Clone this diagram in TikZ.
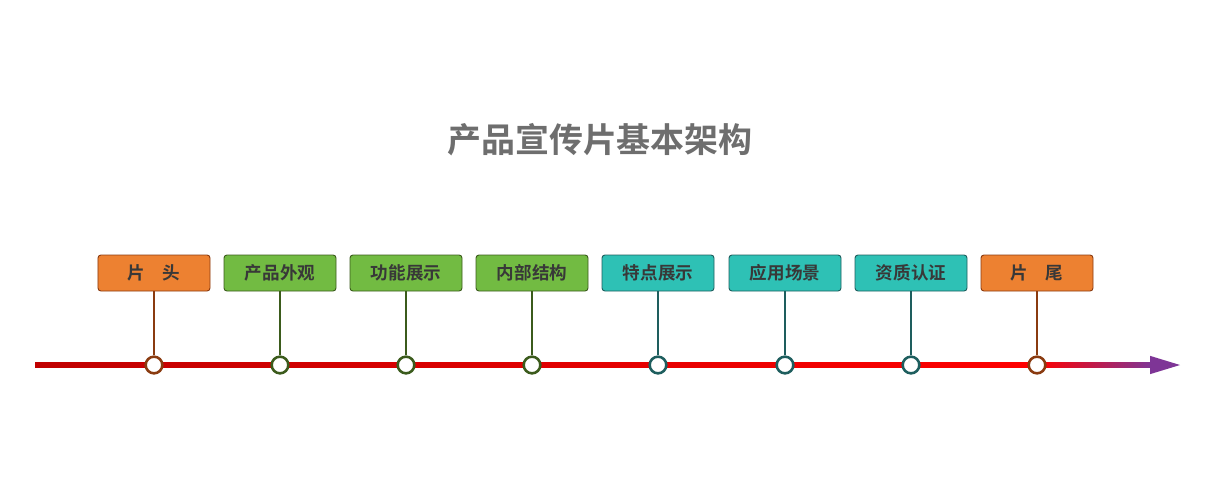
\documentclass[tikz,border=0pt]{standalone}
\usepackage{fontspec}
\newfontfamily\cjk{Noto Sans CJK SC Bold}
\usetikzlibrary{arrows.meta}
\definecolor{orbox}{HTML}{ED8131}
\definecolor{oredge}{HTML}{8A3B10}
\definecolor{grbox}{HTML}{72BB42}
\definecolor{gredge}{HTML}{3B5B1C}
\definecolor{tlbox}{HTML}{2EC1B5}
\definecolor{tledge}{HTML}{1E5E5E}
\definecolor{darkred}{HTML}{C00000}
\definecolor{arrowpurple}{HTML}{7E3596}
\definecolor{titlegray}{HTML}{6E6E6E}
\begin{document}
\begin{tikzpicture}[x=0.03cm,y=-0.03cm,
  tag/.style={draw=#1edge,fill=#1box,rounded corners=2.5pt,line width=0.8pt,
    minimum width=3.36cm,minimum height=1.08cm,inner sep=0pt,
    font=\cjk\fontsize{15}{15}\selectfont,text=black!78},
  dot/.style={circle,draw=#1edge,fill=white,line width=2.2pt,minimum size=0.5cm,inner sep=0pt},
  stem/.style={draw=#1edge,line width=1.6pt}
  ]
\useasboundingbox (0,0) rectangle (1215,477);
\node[font=\cjk\fontsize{29}{29}\selectfont,text=titlegray] (title) at (600,140) {产品宣传片基本架构};
% time line
\shade[left color=darkred,right color=red] (35,362.5) rectangle (1037,367.5);
\shade[left color=red,right color=arrowpurple] (1037,362.5) rectangle (1152,367.5);
\coordinate (lineend) at (1150,365);
\coordinate (tip) at (1180,365);
\draw[arrowpurple,line width=0pt,-{Triangle[length=0.9cm,width=0.55cm]}] (lineend) -- (tip);
% stages
\foreach \i/\x/\c/\t in {1/154/or/片\quad 头,2/280/gr/产品外观,3/406/gr/功能展示,4/532/gr/内部结构,
                        5/658/tl/特点展示,6/785/tl/应用场景,7/911/tl/资质认证,8/1037/or/片\quad 尾}{
  \node[tag=\c] (b\i) at (\x,273) {\t};
  \node[dot=\c] (c\i) at (\x,365) {};
  \draw[stem=\c] (b\i.south) -- (c\i.north);
}
\end{tikzpicture}
\end{document}
